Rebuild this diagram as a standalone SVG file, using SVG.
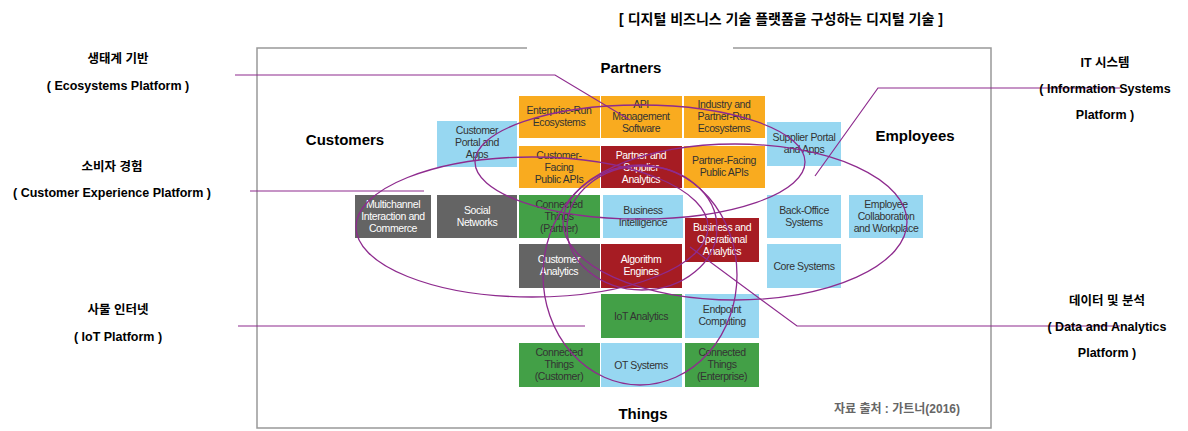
<svg xmlns="http://www.w3.org/2000/svg" width="1188" height="431" viewBox="0 0 1188 431">
<style>
text{font-family:"Liberation Sans",Arial,"Noto Sans CJK KR",sans-serif}
.t{font-size:10.5px;text-anchor:middle;letter-spacing:-0.4px}
.o{fill:#f9ab1f}.r{fill:#a61c23}.g{fill:#43a047}.b{fill:#97d7f1}.d{fill:#646464}
.lt{fill:#fff}.dk{fill:#333}
.h{font-size:15px;font-weight:bold;text-anchor:middle}
.lab{font-size:12.5px;font-weight:bold;text-anchor:middle}
.e{fill:none;stroke:#8e2b8e;stroke-width:1.3}
.ln{fill:none;stroke:#8e2b8e;stroke-width:1.2}
</style>
<rect width="1188" height="431" fill="#fff"/>
<text x="781" y="24" class="lab" style="font-size:14px">[ 디지털 비즈니스 기술 플랫폼을 구성하는 디지털 기술 ]</text>
<path d="M527,48H257V428H991V48H733" fill="none" stroke="#999" stroke-width="1.5"/>
<text x="631" y="73" class="h">Partners</text>
<text x="345" y="145" class="h">Customers</text>
<text x="915" y="141" class="h">Employees</text>
<text x="643" y="419" class="h">Things</text>
<text x="897" y="413" style="font-size:12px;font-weight:bold;fill:#666" text-anchor="middle">자료 출처 : 가트너(2016)</text>
<g id="nodes">
<g id="n1"><rect x="519" y="96" width="81" height="42" class="o"/><text class="t dk" x="559" y="114">Enterprise-Run<tspan x="559" dy="12">Ecosystems</tspan></text></g>
<g id="n2"><rect x="601" y="96" width="81" height="42" class="o"/><text class="t dk" x="641" y="108">API<tspan x="641" dy="12">Management</tspan><tspan x="641" dy="12">Software</tspan></text></g>
<g id="n3"><rect x="684" y="96" width="81" height="42" class="o"/><text class="t dk" x="724" y="108">Industry and<tspan x="724" dy="12">Partner-Run</tspan><tspan x="724" dy="12">Ecosystems</tspan></text></g>
<g id="n4"><rect x="437" y="121" width="80" height="46" class="b"/><text class="t dk" x="477" y="134">Customer<tspan x="477" dy="12">Portal and</tspan><tspan x="477" dy="12">Apps</tspan></text></g>
<g id="n5"><rect x="767" y="122" width="74" height="44" class="b"/><text class="t dk" x="804" y="141">Supplier Portal<tspan x="804" dy="12">and Apps</tspan></text></g>
<g id="n6"><rect x="519" y="146" width="81" height="42" class="o"/><text class="t dk" x="559" y="159">Customer-<tspan x="559" dy="12">Facing</tspan><tspan x="559" dy="12">Public APIs</tspan></text></g>
<g id="n7"><rect x="601" y="146" width="81" height="42" class="r"/><text class="t lt" x="641" y="159">Partner and<tspan x="641" dy="12">Supplier</tspan><tspan x="641" dy="12">Analytics</tspan></text></g>
<g id="n8"><rect x="684" y="146" width="81" height="42" class="o"/><text class="t dk" x="724" y="164">Partner-Facing<tspan x="724" dy="12">Public APIs</tspan></text></g>
<g id="n9"><rect x="355" y="195" width="76" height="43" class="d"/><text class="t lt" x="393" y="208">Multichannel<tspan x="393" dy="12">Interaction and</tspan><tspan x="393" dy="12">Commerce</tspan></text></g>
<g id="n10"><rect x="437" y="195" width="80" height="43" class="d"/><text class="t lt" x="477" y="214">Social<tspan x="477" dy="12">Networks</tspan></text></g>
<g id="n11"><rect x="519" y="195" width="81" height="43" class="g"/><text class="t dk" x="559" y="208">Connected<tspan x="559" dy="12">Things</tspan><tspan x="559" dy="12">(Partner)</tspan></text></g>
<g id="n12"><rect x="603" y="195" width="80" height="43" class="b"/><text class="t dk" x="643" y="214">Business<tspan x="643" dy="12">Intelligence</tspan></text></g>
<g id="n13"><rect x="767" y="195" width="74" height="43" class="b"/><text class="t dk" x="804" y="214">Back-Office<tspan x="804" dy="12">Systems</tspan></text></g>
<g id="n14"><rect x="849" y="195" width="74" height="43" class="b"/><text class="t dk" x="886" y="208">Employee<tspan x="886" dy="12">Collaboration</tspan><tspan x="886" dy="12">and Workplace</tspan></text></g>
<g id="n15"><rect x="685" y="218" width="74" height="44" class="r"/><text class="t lt" x="722" y="231">Business and<tspan x="722" dy="12">Operational</tspan><tspan x="722" dy="12">Analytics</tspan></text></g>
<g id="n16"><rect x="519" y="244" width="81" height="44" class="d"/><text class="t lt" x="559" y="263">Customer<tspan x="559" dy="12">Analytics</tspan></text></g>
<g id="n17"><rect x="601" y="244" width="81" height="44" class="r"/><text class="t lt" x="641" y="263">Algorithm<tspan x="641" dy="12">Engines</tspan></text></g>
<g id="n18"><rect x="767" y="244" width="74" height="44" class="b"/><text class="t dk" x="804" y="270">Core Systems</text></g>
<g id="n19"><rect x="601" y="294" width="81" height="44" class="g"/><text class="t dk" x="641" y="320">IoT Analytics</text></g>
<g id="n20"><rect x="685" y="294" width="74" height="44" class="b"/><text class="t dk" x="722" y="313">Endpoint<tspan x="722" dy="12">Computing</tspan></text></g>
<g id="n21"><rect x="519" y="343" width="81" height="44" class="g"/><text class="t dk" x="559" y="356">Connected<tspan x="559" dy="12">Things</tspan><tspan x="559" dy="12">(Customer)</tspan></text></g>
<g id="n22"><rect x="601" y="343" width="81" height="44" class="b"/><text class="t dk" x="641" y="369">OT Systems</text></g>
<g id="n23"><rect x="685" y="343" width="74" height="44" class="g"/><text class="t dk" x="722" y="356">Connected<tspan x="722" dy="12">Things</tspan><tspan x="722" dy="12">(Enterprise)</tspan></text></g>
</g>
<g id="ellipses">
<ellipse class="e" cx="532" cy="227" rx="176" ry="70"/>
<ellipse class="e" cx="735" cy="222" rx="172" ry="78"/>
<ellipse class="e" cx="640" cy="162" rx="165" ry="57"/>
<ellipse class="e" cx="640" cy="275" rx="97" ry="110"/>
<ellipse class="e" cx="642" cy="228" rx="75" ry="62"/>
</g>
<g id="connectors">
<path class="ln" d="M235,75H555L630,120"/>
<path class="ln" d="M1120,88H878L815,176"/>
<path class="ln" d="M250,191H424"/>
<path class="ln" d="M238,326H585"/>
<path class="ln" d="M1120,326H797L690,247"/>
</g>
<g id="labels">
<text x="118" y="63" class="lab">생태계 기반</text>
<text x="118" y="90" class="lab">( Ecosystems Platform )</text>
<text x="1105" y="67" class="lab">IT 시스템</text>
<text x="1105" y="93" class="lab">( Information Systems</text>
<text x="1105" y="119" class="lab">Platform )</text>
<text x="112" y="171" class="lab">소비자 경험</text>
<text x="112" y="197" class="lab">( Customer Experience Platform )</text>
<text x="118" y="314" class="lab">사물 인터넷</text>
<text x="118" y="341" class="lab">( IoT Platform )</text>
<text x="1107" y="305" class="lab">데이터 및 분석</text>
<text x="1107" y="331" class="lab">( Data and Analytics</text>
<text x="1107" y="357" class="lab">Platform )</text>
</g>
</svg>
